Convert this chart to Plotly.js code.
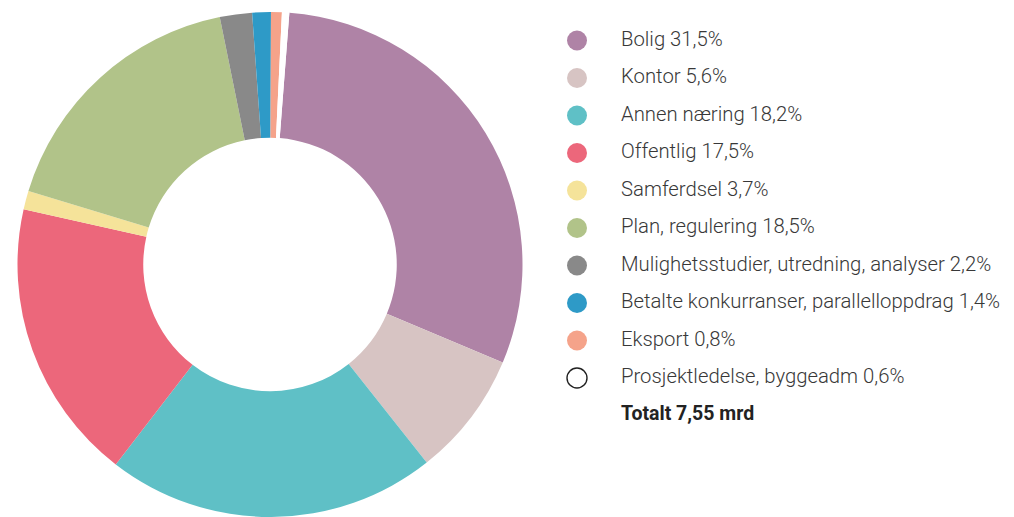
<!DOCTYPE html>
<html>
<head>
<meta charset="utf-8">
<script src="https://cdn.plot.ly/plotly-3.0.1.min.js"></script>
<style>html,body{margin:0;padding:0;background:#fff;}#chart{width:1014px;height:517px;}</style>
</head>
<body>
<div id="chart"></div>
<script>
// Categories (legend text as printed)
const categories = ["Bolig", "Kontor", "Annen næring", "Offentlig", "Samferdsel", "Plan, regulering",
  "Mulighetsstudier, utredning, analyser", "Betalte konkurranser, parallelloppdrag", "Eksport",
  "Prosjektledelse, byggeadm"];
// Percentages printed in the legend
const legendPct = ["31,5%", "5,6%", "18,2%", "17,5%", "3,7%", "18,5%", "2,2%", "1,4%", "0,8%", "0,6%"];
// Slice sizes as read from the drawn donut (share of circle, %)
const sliceValues = [30.1, 8.0, 21.1, 18.05, 1.18, 17.1, 2.06, 1.19, 0.69, 0.47];
const colors = ["#AF83A6", "#D7C4C3", "#5FC0C6", "#EC677B", "#F5E39A", "#B1C389", "#898989", "#2E9AC7", "#F5A38A", "#FFFFFF"];
const totalLabel = "Totalt 7,55 mrd";

const W = 1014, H = 517;
const FONT = "Roboto, 'DejaVu Sans', sans-serif";
const TEXTCOL = "#383838";

const pie = {
  type: "pie",
  values: sliceValues,
  labels: categories,
  marker: {colors: colors, line: {width: 0}},
  sort: false,
  direction: "clockwise",
  rotation: 4.4,
  hole: 0.502,
  textinfo: "none",
  hoverinfo: "label+value",
  showlegend: false,
  domain: {x: [17.5 / W, 522.5 / W], y: [0, 1 - 12 / H]}
};

// Legend drawn on a hidden pixel-scaled axis
const rowY0 = 40.5, rowStep = 37.5, markerX = 577, textX = 621;
const rowsY = categories.map((_, i) => rowY0 + i * rowStep);
const legendMarkers = {
  type: "scatter", mode: "markers",
  x: categories.map(() => markerX), y: rowsY,
  marker: {size: 20, color: colors,
    line: {color: colors.map(c => c === "#FFFFFF" ? "#222222" : c), width: colors.map(c => c === "#FFFFFF" ? 1.4 : 0)}},
  hoverinfo: "skip", showlegend: false, cliponaxis: false
};
const legendText = {
  type: "scatter", mode: "text",
  x: categories.map(() => textX), y: rowsY,
  text: categories.map((c, i) => c + " " + legendPct[i]),
  textposition: "middle right",
  textfont: {family: FONT, size: 20.3, color: TEXTCOL, weight: 300},
  hoverinfo: "skip", showlegend: false, cliponaxis: false
};
const totalText = {
  type: "scatter", mode: "text",
  x: [textX], y: [rowY0 + categories.length * rowStep],
  text: [totalLabel],
  textposition: "middle right",
  textfont: {family: FONT, size: 19.5, color: "#222222", weight: 700},
  hoverinfo: "skip", showlegend: false, cliponaxis: false
};

const layout = {
  width: W, height: H,
  margin: {l: 0, r: 0, t: 0, b: 0, pad: 0},
  paper_bgcolor: "#ffffff", plot_bgcolor: "rgba(0,0,0,0)",
  showlegend: false,
  xaxis: {visible: false, range: [0, W], domain: [0, 1], fixedrange: true},
  yaxis: {visible: false, range: [H, 0], domain: [0, 1], fixedrange: true},
  font: {family: FONT, color: TEXTCOL}
};

Plotly.newPlot("chart", [pie, legendMarkers, legendText, totalText], layout, {displayModeBar: false, staticPlot: true});
</script>
</body>
</html>
